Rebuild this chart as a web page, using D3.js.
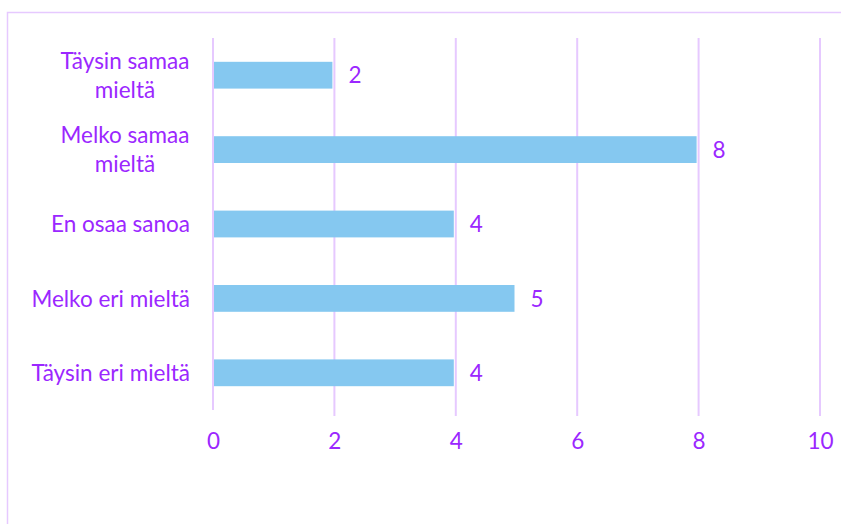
<!DOCTYPE html>
<html>
<head>
<meta charset="utf-8">
<script src="https://cdn.jsdelivr.net/npm/d3@7"></script>
<style>
  html, body { margin: 0; padding: 0; background: #fff; }
  svg { display: block; }
  text { font-family: Lato, "Open Sans", sans-serif; }
</style>
</head>
<body>
<svg id="chart" width="841" height="524"></svg>
<script>
// Survey answers and how many respondents picked each
const categories = [
  ["Täysin samaa", "mieltä"],
  ["Melko samaa", "mieltä"],
  ["En osaa sanoa"],
  ["Melko eri mieltä"],
  ["Täysin eri mieltä"]
];
const values = [2, 8, 4, 5, 4];
const xTicks = [0, 2, 4, 6, 8, 10];

const svg = d3.select("#chart");
const textColor = "#9b27ff";
const gridColor = "#e6c9ff";
const barColor = "#85c8f0";
const fontSize = 22.5;

// Chart frame
svg.append("path")
  .attr("d", "M7.5,524 V12.5 H841")
  .attr("fill", "none")
  .attr("stroke", gridColor)
  .attr("stroke-width", 1.5);

const plot = { left: 213, right: 820, top: 38, bottom: 410 };

const x = d3.scaleLinear().domain([0, 10]).range([plot.left, plot.right]);
const y = d3.scaleBand()
  .domain(d3.range(categories.length))
  .range([plot.top, plot.bottom])
  .paddingInner(0.64)
  .paddingOuter(0.32);

// Vertical gridlines
svg.append("g").selectAll("line")
  .data(xTicks)
  .join("line")
  .attr("x1", d => x(d)).attr("x2", d => x(d))
  .attr("y1", plot.top)
  .attr("y2", d => d === 0 ? plot.bottom : plot.bottom + 6)
  .attr("stroke", gridColor)
  .attr("stroke-width", 2);

// Bars
svg.append("g").selectAll("rect")
  .data(values)
  .join("rect")
  .attr("x", x(0) + 1)
  .attr("y", (d, i) => y(i))
  .attr("width", d => x(d) - x(0) - 3)
  .attr("height", y.bandwidth())
  .attr("fill", barColor);

// Value labels
svg.append("g").selectAll("text")
  .data(values)
  .join("text")
  .attr("x", d => x(d) + 14)
  .attr("y", (d, i) => y(i) + y.bandwidth() / 2)
  .attr("dy", "0.36em")
  .attr("fill", textColor)
  .attr("font-size", fontSize)
  .text(d => d);

// Category labels
const catG = svg.append("g");
categories.forEach((lines, i) => {
  const cy = y(i) + y.bandwidth() / 2;
  const lh = 29;
  const t = catG.append("text")
    .attr("text-anchor", "middle")
    .attr("fill", textColor)
    .attr("font-size", fontSize);
  const cx = lines.length > 1 ? 125 : 190;
  if (lines.length === 1) t.attr("text-anchor", "end");
  lines.forEach((ln, j) => {
    t.append("tspan")
      .attr("x", cx)
      .attr("y", cy + (j - (lines.length - 1) / 2) * lh)
      .attr("dy", "0.36em")
      .text(ln);
  });
});

// X axis labels
const xAxis = d3.axisBottom(x).tickValues(xTicks).tickSize(0).tickPadding(0);
const ax = svg.append("g")
  .attr("transform", `translate(0,${plot.bottom + 23})`)
  .call(xAxis);
ax.select(".domain").remove();
ax.selectAll("text")
  .attr("fill", textColor)
  .attr("font-size", fontSize)
  .attr("font-family", "Lato, 'Open Sans', sans-serif");
</script>
</body>
</html>
